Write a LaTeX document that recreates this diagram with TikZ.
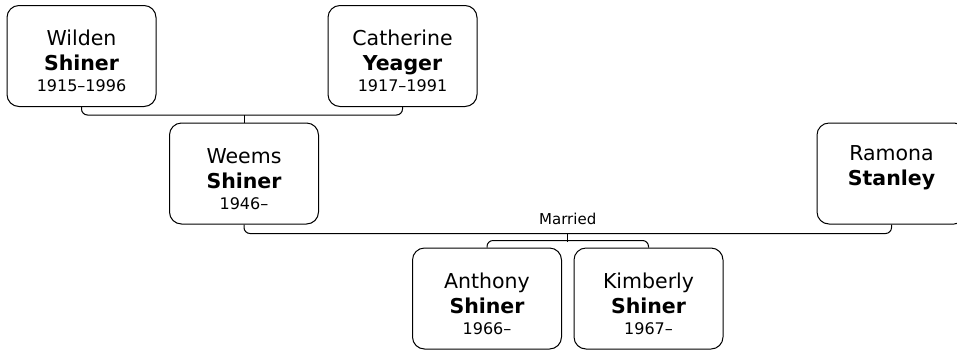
\documentclass[tikz,border=0pt]{standalone}
\usepackage{fontspec}
\setmainfont{DejaVu Sans}
\usetikzlibrary{calc}

\newcommand{\padtop}{\rule{0pt}{26pt}}
\newcommand{\yrs}[1]{\\[-4pt]\fontsize{16}{20}\selectfont #1}

\begin{document}
\begin{tikzpicture}[
    x=1pt, y=-1pt,
    line width=1pt,
    person/.style={draw, rounded corners=12pt, minimum width=149pt, minimum height=101pt,
        align=center, inner sep=0pt, font=\fontsize{20.5}{25}\selectfont},
    bar/.style={draw, rounded corners=6pt},
    label style/.style={font=\fontsize{15}{18}\selectfont, inner sep=3pt}
]
\useasboundingbox (0,0) rectangle (957,349);

% Grandparents
\node[person] (wilden) at (81.5,56) {\padtop Wilden\\\textbf{Shiner}\yrs{1915–1996}};
\node[person] (catherine) at (402.5,56) {\padtop Catherine\\\textbf{Yeager}\yrs{1917–1991}};

% Couple
\node[person] (weems) at (244,173.5) {\padtop Weems\\\textbf{Shiner}\yrs{1946–}};
\node[person] (ramona) at (891.5,173.5) {\padtop Ramona\\\textbf{Stanley}\yrs{\strut}};

% Children
\node[person] (anthony) at (487,298.5) {\padtop Anthony\\\textbf{Shiner}\yrs{1966–}};
\node[person] (kimberly) at (648.5,298.5) {\padtop Kimberly\\\textbf{Shiner}\yrs{1967–}};

% Parent lines
\path[bar] (wilden.south) -- ++(0,8) -| (catherine.south);
\draw (weems.north) -- ++(0,-8);

% Marriage
\path[bar] (weems.south) -- ++(0,9) -| (ramona.south);
\coordinate (mar) at ($(weems.south)!0.5!(ramona.south)+(0,9)$);
\node[label style, above=5pt] (married) at (mar) {Married};
\draw (mar) -- ++(0,8);
\path[bar] (anthony.north) -- ++(0,-7) -| (kimberly.north);

\end{tikzpicture}
\end{document}
